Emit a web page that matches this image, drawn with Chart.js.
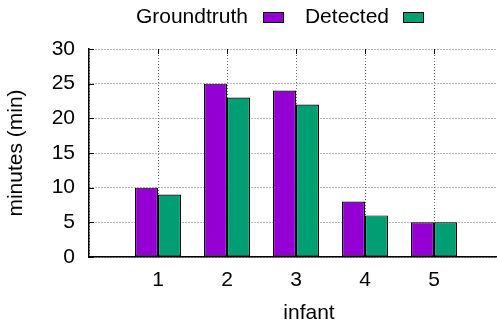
<!DOCTYPE html>
<html>
<head>
<meta charset="utf-8">
<script src="https://cdn.jsdelivr.net/npm/chart.js@4/dist/chart.umd.min.js"></script>
<style>
  html, body { margin: 0; padding: 0; background: #fff; }
  #box { width: 497px; height: 329px; }
</style>
</head>
<body>
<div id="box"><canvas id="infant-chart"></canvas></div>
<script>
const infants = [1, 2, 3, 4, 5]
const groundtruth = [10, 25, 24, 8, 5]
const detected = [9, 23, 22, 6, 5]
const yTicks = [0, 5, 10, 15, 20, 25, 30]

const FONT = "'Liberation Sans', Arial, sans-serif"

// gnuplot style key: label text first, sample box after it
const gnuplotKey = {
  id: 'gnuplotKey',
  afterDraw(chart) {
    const ctx = chart.ctx
    const items = [
      { textRight: 248, boxLeft: 263 },
      { textRight: 389, boxLeft: 403 }
    ]
    ctx.save()
    ctx.font = '21px ' + FONT
    ctx.textAlign = 'right'
    ctx.textBaseline = 'middle'
    chart.data.datasets.forEach((ds, i) => {
      const it = items[i]
      ctx.fillStyle = '#000'
      ctx.fillText(ds.label, it.textRight, 17)
      ctx.fillStyle = ds.backgroundColor
      ctx.fillRect(it.boxLeft, 12, 20, 11)
      ctx.lineWidth = 1
      ctx.strokeStyle = '#000'
      ctx.strokeRect(it.boxLeft + 0.5, 12.5, 20, 10)
    })
    // x axis label, gnuplot put it a bit right of the plot centre
    ctx.textAlign = 'center'
    ctx.fillStyle = '#000'
    ctx.fillText('infant', 309, 313)

    // small inward tick marks like gnuplot (left axis and mirrored top)
    const a = chart.chartArea
    const xs = chart.scales.x, ys = chart.scales.y
    ctx.strokeStyle = '#000'
    ctx.lineWidth = 1
    ctx.beginPath()
    yTicks.forEach(v => {
      const y = Math.round(ys.getPixelForValue(v)) + 0.5
      ctx.moveTo(a.left, y); ctx.lineTo(a.left + 5, y)
    })
    infants.forEach(v => {
      const x = Math.round(xs.getPixelForValue(v)) + 0.5
      ctx.moveTo(x, a.top); ctx.lineTo(x, a.top + 5)
    })
    ctx.stroke()
    ctx.restore()
  }
}

new Chart('infant-chart', {
  type: 'bar',
  data: {
    datasets: [
      {
        label: 'Groundtruth',
        data: infants.map((x, i) => ({ x: x, y: groundtruth[i] })),
        backgroundColor: '#9400d3',
        borderColor: '#000',
        borderWidth: 1.2,
        borderSkipped: false,
        categoryPercentage: 2 / 3,
        barPercentage: 1
      },
      {
        label: 'Detected',
        data: infants.map((x, i) => ({ x: x, y: detected[i] })),
        backgroundColor: '#009e73',
        borderColor: '#000',
        borderWidth: 1.2,
        borderSkipped: false,
        categoryPercentage: 2 / 3,
        barPercentage: 1
      }
    ]
  },
  options: {
    responsive: true,
    maintainAspectRatio: false,
    animation: false,
    layout: { padding: { top: 49, left: 0, right: 0, bottom: 0 } },
    plugins: {
      legend: { display: false },
      tooltip: { enabled: false }
    },
    scales: {
      x: {
        type: 'linear',
        min: 0,
        max: 5.913,
        offset: false,
        afterFit: (s) => { s.height = 72 },
        afterBuildTicks: (s) => { s.ticks = [0, 1, 2, 3, 4, 5].map(v => ({ value: v })) },
        ticks: {
          padding: 11,
          color: '#000',
          font: { family: FONT, size: 21 },
          maxRotation: 0,
          autoSkip: false,
          callback: (v) => (v > 0 ? v : '')
        },
        grid: { color: '#707070', lineWidth: 1, drawTicks: false, offset: false },
        border: { display: true, color: '#000', width: 1.5, dash: [1, 2] }
      },
      y: {
        min: 0,
        max: 30,
        afterFit: (s) => { s.width = 89 },
        afterBuildTicks: (s) => { s.ticks = yTicks.map(v => ({ value: v })) },
        ticks: {
          padding: 14,
          color: '#000',
          font: { family: FONT, size: 21 }
        },
        grid: { color: '#707070', lineWidth: 1, drawTicks: false },
        border: { display: true, color: '#000', width: 1.5, dash: [1, 2] },
        title: {
          display: true,
          text: 'minutes (min)',
          color: '#000',
          font: { family: FONT, size: 21 },
          padding: { top: 4, bottom: 0 }
        }
      }
    }
  },
  plugins: [gnuplotKey]
})
</script>
</body>
</html>
